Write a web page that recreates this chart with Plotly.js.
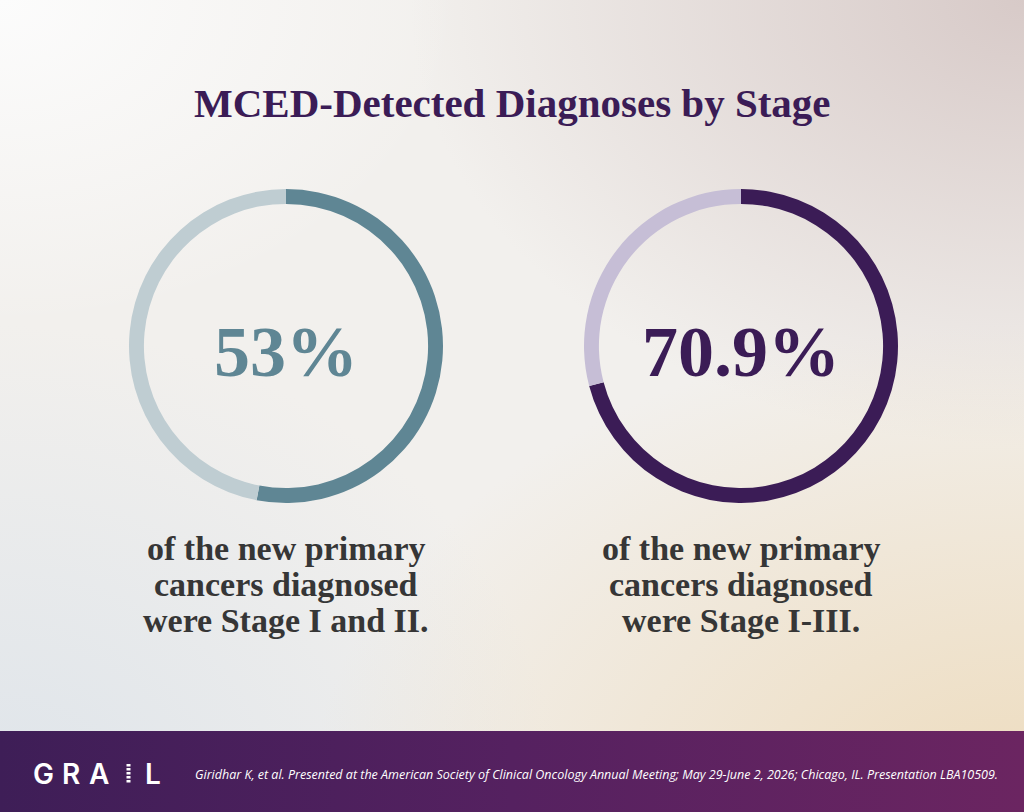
<!DOCTYPE html>
<html>
<head>
<meta charset="utf-8">
<script src="https://cdn.plot.ly/plotly-3.0.1.min.js"></script>
<style>
  html, body { margin: 0; padding: 0; }
  #chart {
    width: 1024px; height: 812px;
    background:
      linear-gradient(to right, #3e1e57 0%, #552160 50%, #6b2561 100%) bottom / 100% 81px no-repeat,
      radial-gradient(ellipse 70% 60% at 100% 100%, rgba(237,218,186,0.95), rgba(237,218,186,0) 100%),
      radial-gradient(ellipse 60% 55% at 100% 0%, rgba(214,200,198,0.95), rgba(214,200,198,0) 100%),
      radial-gradient(ellipse 55% 60% at 0% 100%, rgba(222,228,234,1), rgba(222,228,234,0) 100%),
      radial-gradient(ellipse 45% 40% at 0% 0%, rgba(252,252,252,1), rgba(252,252,252,0) 100%),
      #f2f0ed;
  }
</style>
</head>
<body>
<div id="chart"></div>
<script>
// Share of MCED-detected new primary cancers by stage group
const stageGroups   = ['Stage I and II', 'Stage I-III'];
const detectedShare = [53, 70.9];
const shareLabels   = ['53%', '70.9%'];
const captionLines = [
  ['of the new primary', 'cancers diagnosed', 'were Stage I and II.'],
  ['of the new primary', 'cancers diagnosed', 'were Stage I-III.']
];
const ringColors = [
  ['#5f8694', '#bfcdd2'],
  ['#3b1c56', '#c6bed6']
];
const citation = 'Giridhar K, et al. Presented at the American Society of Clinical Oncology Annual Meeting; May 29-June 2, 2026; Chicago, IL. Presentation LBA10509.';

const W = 1024, H = 812;
const px = x => x / W;
const py = y => 1 - y / H;

// ring placement (pixel centres and radius)
const centers = [[286, 346], [741, 346]];
const R = 157;

const traces = detectedShare.map((v, i) => ({
  type: 'pie',
  values: [v, 100 - v],
  labels: [stageGroups[i], 'Other'],
  sort: false,
  direction: 'clockwise',
  rotation: 0,
  hole: 0.905,
  textinfo: 'none',
  hoverinfo: 'skip',
  showlegend: false,
  marker: { colors: ringColors[i], line: { width: 0 } },
  domain: {
    x: [px(centers[i][0] - R), px(centers[i][0] + R)],
    y: [py(centers[i][1] + R), py(centers[i][1] - R)]
  }
}));

const serif = 'Liberation Serif, Times New Roman, serif';
const annotations = [];

annotations.push({
  text: '<b>MCED-Detected Diagnoses by Stage</b>',
  x: 0.5, y: py(103), xref: 'paper', yref: 'paper',
  xanchor: 'center', yanchor: 'middle', showarrow: false,
  font: { family: serif, size: 41, color: '#3b1c56' }
});

const captionY = [548, 584, 620];
shareLabels.forEach((t, i) => {
  annotations.push({
    text: '<b>' + t + '</b>',
    x: px(centers[i][0]), y: py(352), xref: 'paper', yref: 'paper',
    xanchor: 'center', yanchor: 'middle', showarrow: false,
    font: { family: serif, size: 72, color: ringColors[i][0] }
  });
  captionLines[i].forEach((line, k) => {
    annotations.push({
      text: '<b>' + line + '</b>',
      x: px(centers[i][0]), y: py(captionY[k]), xref: 'paper', yref: 'paper',
      xanchor: 'center', yanchor: 'middle', showarrow: false,
      font: { family: serif, size: 34, color: '#363636' }
    });
  });
});

// GRAIL wordmark letters
const logoLetters = [['G', 43], ['R', 71], ['A', 99], ['L', 153]];
logoLetters.forEach(([ch, x]) => {
  annotations.push({
    text: ch, x: px(x), y: py(774), xref: 'paper', yref: 'paper',
    xanchor: 'center', yanchor: 'middle', showarrow: false,
    font: { family: 'Inter, Roboto, sans-serif', size: 28, color: '#ffffff', weight: 600 }
  });
});

annotations.push({
  text: '<i>' + citation + '</i>',
  x: px(193), y: py(774), xref: 'paper', yref: 'paper',
  xanchor: 'left', yanchor: 'middle', showarrow: false,
  font: { family: 'Open Sans, sans-serif', size: 12.5, color: '#ffffff' }
});

// dashed "I" of the wordmark
const shapes = [{
  type: 'line', xref: 'paper', yref: 'paper',
  x0: px(128.5), x1: px(128.5), y0: py(764), y1: py(784),
  line: { color: '#ffffff', width: 4, dash: '2.5px,1.5px' }
}];

Plotly.newPlot('chart', traces, {
  width: W, height: H,
  margin: { l: 0, r: 0, t: 0, b: 0 },
  paper_bgcolor: 'rgba(0,0,0,0)',
  plot_bgcolor: 'rgba(0,0,0,0)',
  annotations: annotations,
  shapes: shapes
}, { displayModeBar: false, staticPlot: true });
</script>
</body>
</html>
